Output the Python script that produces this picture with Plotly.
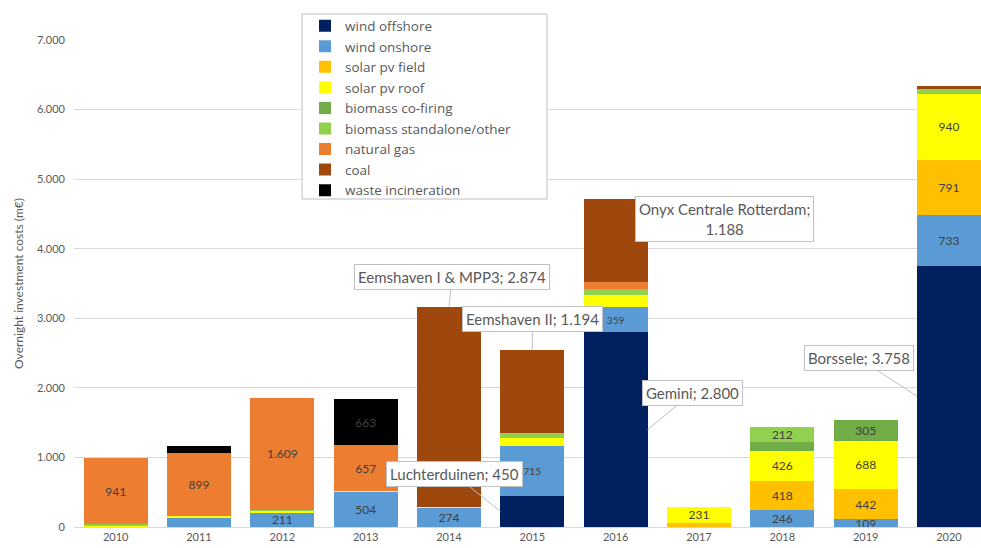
import plotly.graph_objects as go

years = ["2010", "2011", "2012", "2013", "2014", "2015", "2016", "2017", "2018", "2019", "2020"]

wind_offshore      = [0, 0, 0, 0, 0, 450, 2800, 0, 0, 0, 3758]
wind_onshore       = [10, 140, 211, 504, 274, 715, 359, 0, 246, 109, 733]
solar_pv_field     = [0, 0, 0, 0, 0, 0, 0, 60, 418, 442, 791]
solar_pv_roof      = [15, 20, 20, 15, 20, 115, 182, 231, 426, 688, 940]
biomass_cofiring   = [0, 0, 0, 0, 0, 0, 0, 0, 129, 305, 0]
biomass_standalone = [20, 0, 20, 0, 0, 67, 77, 0, 212, 0, 70]
natural_gas        = [941, 899, 1609, 657, 0, 0, 105, 0, 0, 0, 0]
coal               = [0, 0, 0, 0, 2874, 1194, 1188, 0, 0, 0, 50]
waste_incineration = [0, 105, 0, 663, 0, 0, 0, 0, 0, 0, 0]

series_names = ["wind offshore", "wind onshore", "solar pv field", "solar pv roof",
                "biomass co-firing", "biomass standalone/other", "natural gas", "coal",
                "waste incineration"]
series_values = [wind_offshore, wind_onshore, solar_pv_field, solar_pv_roof,
                 biomass_cofiring, biomass_standalone, natural_gas, coal, waste_incineration]
series_colors = ["#002060", "#5B9BD5", "#FFC000", "#FFFF00", "#70AD47", "#92D050",
                 "#ED7D31", "#9E480E", "#000000"]

# which segments carry a data label
labelled_years = {
    "wind onshore": ["2012", "2013", "2014", "2015", "2016", "2018", "2019", "2020"],
    "solar pv field": ["2018", "2019", "2020"],
    "solar pv roof": ["2017", "2018", "2019", "2020"],
    "biomass co-firing": ["2019"],
    "biomass standalone/other": ["2018"],
    "natural gas": ["2010", "2011", "2012", "2013"],
    "waste incineration": ["2013"],
}
small_label_years = {"wind onshore": ["2015", "2016"]}


def fmt(v):
    return f"{int(round(v)):,}".replace(",", ".")


FONT = "Lato, 'Open Sans', sans-serif"
LEGEND_FONT = "'Open Sans', Lato, sans-serif"
BARGAP = 0.232
HALF = (1 - BARGAP) / 2

fig = go.Figure()
for name, vals, col in zip(series_names, series_values, series_colors):
    shown = labelled_years.get(name, [])
    small = small_label_years.get(name, [])
    texts = [fmt(v) if y in shown else "" for y, v in zip(years, vals)]
    sizes = [10 if y in small else 12 for y in years]
    fig.add_trace(go.Bar(
        name=name, x=years, y=vals, marker=dict(color=col, line=dict(width=0)),
        text=texts, textposition="inside", insidetextanchor="middle",
        textangle=0, constraintext="none",
        textfont=dict(color="#404040", size=sizes, family=FONT),
        hoverinfo="name+y",
    ))

totals = [sum(s[i] for s in series_values) for i in range(len(years))]
below_coal = [sum(s[i] for s in series_values[:7]) for i in range(len(years))]

i14, i15, i16, i20 = years.index("2014"), years.index("2015"), years.index("2016"), years.index("2020")
callouts = [
    (f"Eemshaven I &amp; MPP3; {fmt(coal[i14])}", i14, totals[i14], 3, -30),
    (f"Eemshaven II; {fmt(coal[i15])}", i15, totals[i15], 0, -31),
    (f"Luchterduinen; {fmt(wind_offshore[i15])}", i15 - HALF, wind_offshore[i15] / 2, -46, -37),
    (f"Onyx Centrale Rotterdam;<br>{fmt(coal[i16])}", i16 + HALF, below_coal[i16] + coal[i16] / 2, 77, -22),
    (f"Gemini; {fmt(wind_offshore[i16])}", i16 + HALF, wind_offshore[i16] / 2, 45, -37),
    (f"Borssele; {fmt(wind_offshore[i20])}", i20 - HALF, wind_offshore[i20] / 2, -58, -38),
]
for text, x, y, ax, ay in callouts:
    fig.add_annotation(
        x=x, y=y, xref="x", yref="y", text=text, showarrow=True,
        ax=ax, ay=ay, axref="pixel", ayref="pixel",
        arrowhead=0, arrowwidth=1, arrowcolor="#BFBFBF", standoff=0,
        bgcolor="white", bordercolor="#BFBFBF", borderwidth=1, borderpad=3,
        font=dict(family=FONT, size=15, color="#595959"), align="center",
    )

# legend frame (wider than plotly's auto-sized legend box)
fig.add_shape(type="rect", xref="paper", yref="paper",
              x0=0.2514, x1=0.5215, y0=0.6735, y1=1.0534,
              line=dict(color="#BFBFBF", width=1), fillcolor="white", layer="above")

fig.update_layout(
    width=981, height=548,
    margin=dict(l=74, r=0, t=40, b=21),
    barmode="stack", bargap=BARGAP,
    plot_bgcolor="white", paper_bgcolor="white",
    separators=",.",
    font=dict(family=FONT, color="#595959"),
    showlegend=True,
    legend=dict(
        x=0.2547, y=1.0606, xanchor="left", yanchor="top", xref="paper", yref="paper",
        traceorder="normal", bgcolor="rgba(0,0,0,0)", borderwidth=0,
        font=dict(family=LEGEND_FONT, size=13.5, color="#595959"),
    ),
    xaxis=dict(
        type="category", range=[-0.5, 10.384], showgrid=False,
        showline=True, linecolor="#D9D9D9", linewidth=1,
        tickfont=dict(size=11, color="#595959"), ticks="",
    ),
    yaxis=dict(
        range=[0, 7000], dtick=1000, tickformat=",", showgrid=True, gridcolor="#D9D9D9",
        zeroline=False, showline=False, ticks="", ticklabelstandoff=8,
        tickfont=dict(size=11, color="#595959"),
        title=dict(text="Overnight investment costs (m€)", font=dict(size=12, color="#595959"),
                   standoff=10),
    ),
)

fig.write_html("out.html")
